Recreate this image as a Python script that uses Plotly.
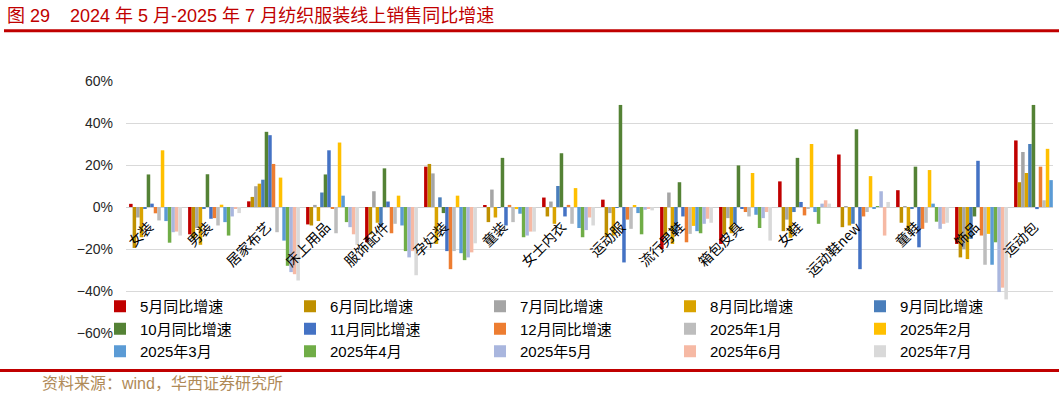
import plotly.graph_objects as go

categories = ["女装", "男装", "居家布艺", "床上用品", "服饰配件", "孕妇装", "童装", "女士内衣",
              "运动服", "流行男鞋", "箱包皮具", "女鞋", "运动鞋new", "童鞋", "饰品", "运动包"]

series_names = ["5月同比增速", "6月同比增速", "7月同比增速", "8月同比增速", "9月同比增速",
                "10月同比增速", "11月同比增速", "12月同比增速", "2025年1月", "2025年2月",
                "2025年3月", "2025年4月", "2025年5月", "2025年6月", "2025年7月"]

colors = ["#C00000", "#BF9000", "#A5A5A5", "#D9A300", "#4A7EBB",
          "#548235", "#4472C4", "#ED7D31", "#BDBDBD", "#FFC000",
          "#5B9BD5", "#70AD47", "#A9B6DE", "#F6B9A4", "#D9D9D9"]

# values in %, one list per series, in category order
m2405 = [1.5, -13, 2.7, -8.3, -16.8, 19.2, 0.6, 4.5, 3.5, -20, -17.6, 12.2, 25, 8, -17.6, 31.7]
m2406 = [-19.5, -15, 4.8, -8.8, -13, 20.5, -7.2, -4.5, -14.4, -13.6, -13, -11.5, -9.6, -7.5, -24, 11.8]
m2407 = [-5, -10, 9.9, 1, 7.5, 16, 8.3, 2.6, -2.9, 6.9, -5.3, -6, 0.3, 0.2, -20, 26.2]
m2408 = [-14.4, -18, 11.1, -6.7, -7.5, -17.6, -5, -8, -13.6, -17.6, -12.5, -14.7, -8.8, -11, -24.8, 16.2]
m2409 = [-0.8, -0.8, 13, 6.9, -9, 4.6, -0.3, 10, -0.3, -13, -8, -2.4, -8, -0.5, -15.2, 30]
m2410 = [15.5, 15.6, 35.8, 15.5, 18.4, -2.9, 23.4, 25.6, 48.6, 11.8, 19.8, 23.4, 37, 19.2, -4.5, 48.6]
m2411 = [1.6, -5.6, 34.2, 27, 2.6, -21, -8.8, -4.5, -26.4, -4.5, -0.8, 2.4, -29.6, -19.2, 22, -1]
m2412 = [-3, -5.3, 20.5, -0.8, -12.5, -29.6, 1, 1, -6, -16.8, -2.4, -4, -4.5, -10.4, -13.6, 19.2]
m2501 = [-6.4, -8.8, -12, -12.5, -8, -21, -7.2, -8, -10.4, -12.8, -4.5, -0.8, -2.4, -7.5, -27.5, 3.2]
m2502 = [27, 1.1, 14, 30.7, 5.4, 5.4, -1, 9, 0.5, -9, 16.2, 30, 14.7, 17.6, -12.8, 27.7]
m2503 = [-6.7, -7.2, -16, 5.4, -8.8, -22, -3.2, -10, -2.9, -11.5, -3.7, -2.4, -0.8, 1.6, -27.5, 12.8]
m2504 = [-17, -13.6, -28, -7.2, -21, -25.3, -14.4, -14.4, -13, -12.5, -10, -8, 0.3, -7, -16.8, None]
m2505 = [-12, -4.5, -31, -9.6, -24, -24, -13.6, -11, -1.3, -8, -5.3, 1.6, 7.5, -10.4, -40.5, None]
m2506 = [-11.7, -0.8, -32, -13, -21, -21.6, -11.7, -5, -0.8, -5.6, -2.4, 3.2, -13.6, -8, -38.4, None]
m2507 = [-13.6, -2.9, -35, -18, -32.5, -17.3, -11.7, -8.8, -1.6, -7.5, -16, 1.6, 2.4, -7.5, -44, None]

series_values = [m2405, m2406, m2407, m2408, m2409, m2410, m2411, m2412,
                 m2501, m2502, m2503, m2504, m2505, m2506, m2507]

y_ticks = [-60, -40, -20, 0, 20, 40, 60]
y_tick_text = [("\u2212" if v < 0 else "") + f"{abs(v)}%" for v in y_ticks]

W, H = 1059, 396
L, R, T, B = 126, 1053, 81, 333


def px_x(p):
    return (p - L) / (R - L)


def px_y(p):
    return (B - p) / (B - T)


CJK = "Liberation Sans, Noto Sans CJK SC"

fig = go.Figure()
for name, vals, col in zip(series_names, series_values, colors):
    fig.add_trace(go.Bar(x=categories, y=vals, name=name, marker_color=col,
                         marker_line_width=0))

annotations = []
for c in categories:
    annotations.append(dict(x=c, y=0, xref="x", yref="y", text=c, showarrow=False,
                            textangle=-45, xanchor="right", yanchor="top",
                            xshift=4, yshift=-7,
                            font=dict(family="Noto Sans CJK SC", size=14, color="#000000")))

annotations.append(dict(x=px_x(40), y=px_y(383), xref="paper", yref="paper",
                        text="资料来源：wind，华西证券研究所", showarrow=False,
                        xanchor="left", yanchor="middle",
                        font=dict(family=CJK, size=16, color="#AF8A57")))

shapes = [
    dict(type="line", xref="paper", yref="paper", x0=px_x(4), x1=px_x(1059),
         y0=px_y(30.8), y1=px_y(30.8), line=dict(color="#C00000", width=3)),
    dict(type="line", xref="paper", yref="paper", x0=px_x(0), x1=px_x(1059),
         y0=px_y(370.5), y1=px_y(370.5), line=dict(color="#C00000", width=3)),
]

fig.update_layout(
    width=W, height=H,
    margin=dict(l=L, r=W - R, t=T, b=H - B, autoexpand=False),
    paper_bgcolor="white", plot_bgcolor="white",
    barmode="group", bargap=0.105, bargroupgap=0,
    title=dict(text="图\u00a029\u00a0\u00a0\u00a0\u00a02024\u00a0年\u00a05\u00a0月-2025\u00a0年\u00a07\u00a0月纺织服装线上销售同比增速",
               x=7 / W, xref="container", xanchor="left",
               y=1 - 16 / H, yref="container", yanchor="middle",
               font=dict(family=CJK, size=18, color="#C00000")),
    xaxis=dict(range=[-0.5, (R - L) / 59.0 - 0.5], showticklabels=False, showgrid=False,
               zeroline=False, showline=False, ticks=""),
    yaxis=dict(range=[-60, 60], tickmode="array", tickvals=y_ticks, ticktext=y_tick_text,
               showgrid=True, gridcolor="#D9D9D9", gridwidth=1, zeroline=True,
               zerolinecolor="#D0D0D0", zerolinewidth=1, showline=False, ticks="",
               ticklabelstandoff=12,
               tickfont=dict(family="Liberation Sans", size=14, color="#262626")),
    legend=dict(orientation="h", x=px_x(100), xanchor="left", y=px_y(368), yanchor="bottom",
                bgcolor="rgba(0,0,0,0)", entrywidth=145, entrywidthmode="pixels",
                font=dict(family=CJK, size=15, color="#000000"),
                traceorder="normal", itemclick=False),
    annotations=annotations,
    shapes=shapes,
    showlegend=True,
)

fig.write_html("out.html", config={"displayModeBar": False},
               post_script="document.body.style.margin='0';")
